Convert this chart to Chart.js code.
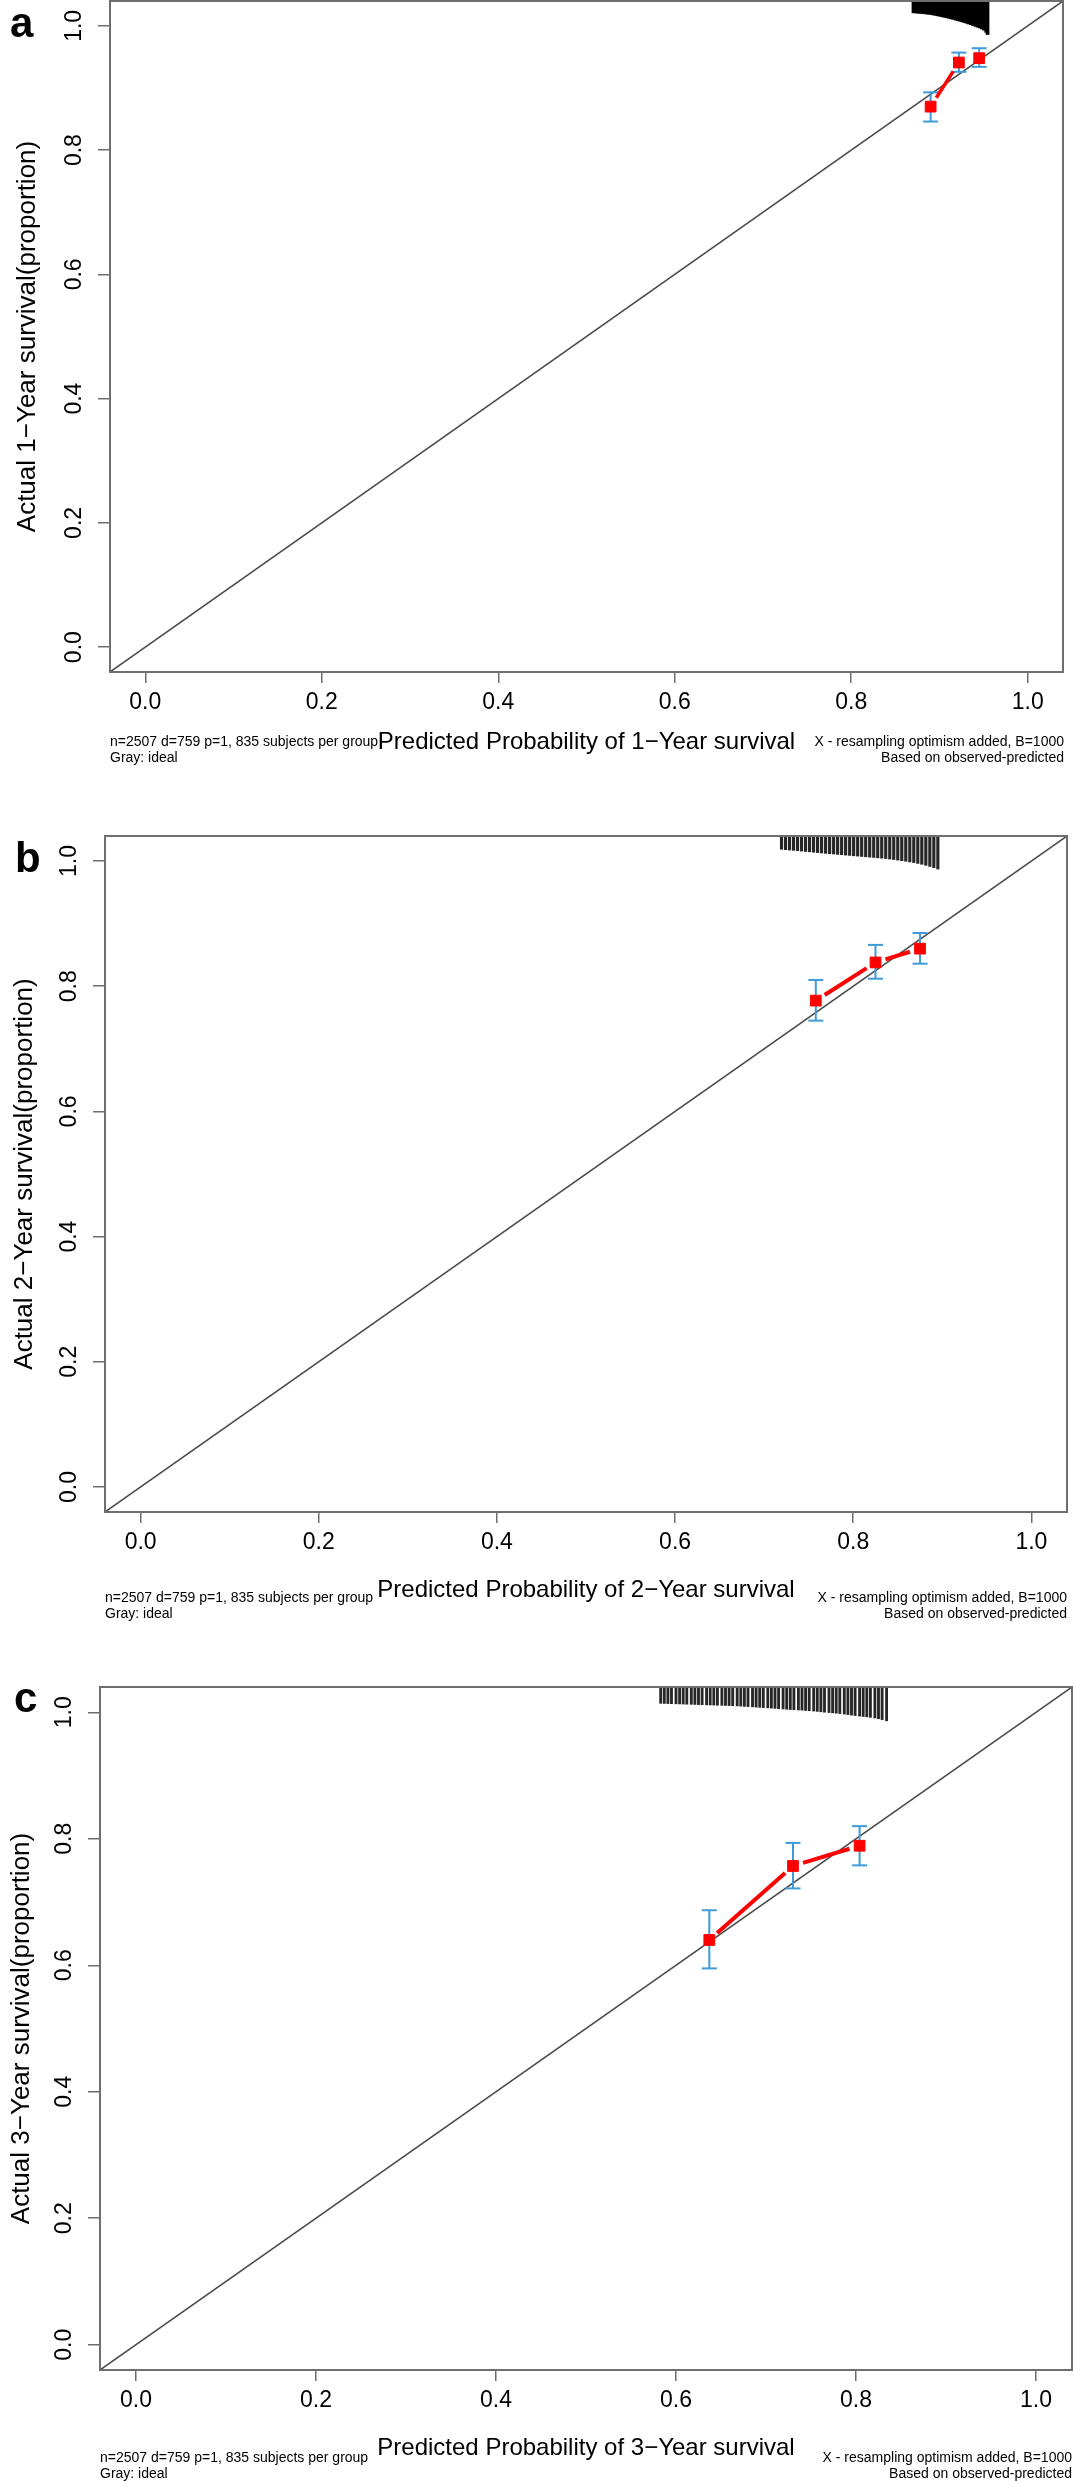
<!DOCTYPE html>
<html>
<head>
<meta charset="utf-8">
<script src="https://cdn.jsdelivr.net/npm/chart.js@4.4.0/dist/chart.umd.min.js"></script>
<style>
  html, body { margin: 0; padding: 0; background: #fff; }
  body { width: 1074px; height: 2481px; position: relative; overflow: hidden; font-family: 'Liberation Sans', Arial, sans-serif; }
  canvas { position: absolute; left: 0; display: block; }
  .tag { position: absolute; font-weight: bold; font-size: 42px; line-height: 42px; }
  .note { position: absolute; font-size: 14px; line-height: 16px; white-space: nowrap; color: #000; }
  .note.r { text-align: right; }
</style>
</head>
<body>
<canvas id="cal1" width="1074" height="790" style="top:0px"></canvas>
<canvas id="cal2" width="1074" height="860" style="top:790px"></canvas>
<canvas id="cal3" width="1074" height="831" style="top:1650px"></canvas>

<div class="tag" style="left:10px;top:2px">a</div>
<div class="tag" style="left:15px;top:837px">b</div>
<div class="tag" style="left:14px;top:1677px">c</div>

<div class="note" style="left:110px;top:733px">n=2507 d=759 p=1, 835 subjects per group</div>
<div class="note" style="left:110px;top:749px">Gray: ideal</div>
<div class="note r" style="right:10px;top:733px">X - resampling optimism added, B=1000</div>
<div class="note r" style="right:10px;top:749px">Based on observed-predicted</div>

<div class="note" style="left:105px;top:1589px">n=2507 d=759 p=1, 835 subjects per group</div>
<div class="note" style="left:105px;top:1605px">Gray: ideal</div>
<div class="note r" style="right:7px;top:1589px">X - resampling optimism added, B=1000</div>
<div class="note r" style="right:7px;top:1605px">Based on observed-predicted</div>

<div class="note" style="left:100px;top:2449px">n=2507 d=759 p=1, 835 subjects per group</div>
<div class="note" style="left:100px;top:2465px">Gray: ideal</div>
<div class="note r" style="right:2px;top:2449px">X - resampling optimism added, B=1000</div>
<div class="note r" style="right:2px;top:2465px">Based on observed-predicted</div>

<script>
const FONT = "'Liberation Sans', Arial, sans-serif";

// axis setup shared by the three calibration plots
const axisMin = -0.04;
const axisMax = 1.04;
const tickValues = [0, 0.2, 0.4, 0.6, 0.8, 1.0];
const idealLine = [-0.04, 1.04];

// a: 1-year survival
const pred1 = [0.890, 0.922, 0.945];
const obs1 = [0.870, 0.941, 0.948];
const lo1 = [0.846, 0.926, 0.934];
const hi1 = [0.893, 0.957, 0.964];
const spikeX1 = [0.8705, 0.873, 0.8755, 0.878, 0.8805, 0.883, 0.8855, 0.888, 0.8905, 0.893, 0.8955, 0.898,
  0.9005, 0.903, 0.9055, 0.908, 0.9105, 0.913, 0.9155, 0.918, 0.9205, 0.923, 0.9255, 0.928, 0.9305, 0.933,
  0.9355, 0.938, 0.9405, 0.943, 0.9455, 0.948, 0.9505, 0.953, 0.9545];
const spikeLen1 = [0.019, 0.0193, 0.0196, 0.0199, 0.0202, 0.0206, 0.021, 0.0214, 0.0218, 0.0225, 0.0232, 0.0239,
  0.0246, 0.0254, 0.0262, 0.027, 0.0278, 0.0287, 0.0296, 0.0306, 0.0316, 0.0326, 0.0336, 0.0347, 0.0358, 0.037,
  0.0382, 0.0395, 0.0408, 0.0421, 0.0434, 0.045, 0.047, 0.0505, 0.054];

// b: 2-year survival
const pred2 = [0.758, 0.825, 0.875];
const obs2 = [0.777, 0.838, 0.860];
const lo2 = [0.745, 0.812, 0.836];
const hi2 = [0.810, 0.866, 0.885];
const spikeX2 = [0.7195, 0.724, 0.7285, 0.733, 0.7375, 0.742, 0.7465, 0.751, 0.7555, 0.76, 0.7645, 0.769,
  0.7735, 0.778, 0.7825, 0.787, 0.7915, 0.796, 0.8005, 0.805, 0.8095, 0.814, 0.8185, 0.823, 0.8275, 0.832,
  0.8365, 0.841, 0.8455, 0.85, 0.8545, 0.859, 0.8635, 0.868, 0.8725, 0.877, 0.8815, 0.886, 0.8905, 0.895];
const spikeLen2 = [0.0212, 0.0218, 0.0224, 0.0229, 0.0235, 0.0241, 0.0247, 0.0253, 0.0259, 0.0265, 0.0271, 0.0277,
  0.0283, 0.0288, 0.0294, 0.0299, 0.0305, 0.031, 0.0316, 0.0321, 0.0327, 0.0332, 0.0338, 0.0343, 0.0349, 0.0354,
  0.036, 0.0368, 0.0376, 0.0385, 0.0394, 0.0404, 0.0414, 0.0425, 0.0438, 0.0452, 0.0468, 0.0486, 0.0506, 0.0528];

// c: 3-year survival
const pred3 = [0.637, 0.730, 0.804];
const obs3 = [0.640, 0.757, 0.789];
const lo3 = [0.595, 0.7215, 0.758];
const hi3 = [0.687, 0.7935, 0.820];
const spikeX3 = [0.583, 0.587, 0.591, 0.595, 0.6, 0.604, 0.608, 0.612, 0.617, 0.621, 0.625, 0.629, 0.634, 0.638,
  0.642, 0.646, 0.651, 0.655, 0.659, 0.663, 0.668, 0.672, 0.676, 0.68, 0.685, 0.689, 0.693, 0.697, 0.702, 0.706,
  0.71, 0.714, 0.719, 0.723, 0.727, 0.731, 0.736, 0.74, 0.744, 0.748, 0.753, 0.757, 0.761, 0.765, 0.77, 0.774,
  0.778, 0.782, 0.787, 0.791, 0.795, 0.799, 0.804, 0.808, 0.812, 0.816, 0.821, 0.825, 0.829, 0.834];
const spikeLen3 = [0.0258, 0.026, 0.0262, 0.0264, 0.0266, 0.0268, 0.027, 0.0272, 0.0274, 0.0276, 0.0278, 0.028,
  0.0282, 0.0284, 0.0286, 0.0288, 0.029, 0.0292, 0.0294, 0.0296, 0.0299, 0.0303, 0.0306, 0.031, 0.0314, 0.0318,
  0.0322, 0.0326, 0.033, 0.0334, 0.0338, 0.0342, 0.0347, 0.0352, 0.0356, 0.036, 0.0363, 0.0366, 0.037, 0.0375,
  0.038, 0.0386, 0.0392, 0.0398, 0.0404, 0.0408, 0.0414, 0.042, 0.0428, 0.0436, 0.0444, 0.0452, 0.046, 0.0466,
  0.0472, 0.048, 0.049, 0.0502, 0.0516, 0.0535];

// draws the red connecting line R-style (type="b"): segments stop short of each square
const gapLine = {
  id: 'gapLine',
  beforeDatasetDraw(chart, args, opts) {
    if (args.index !== 0) return;
    const pts = args.meta.data;
    const ctx = chart.ctx;
    ctx.save();
    ctx.strokeStyle = '#ff0000';
    ctx.lineWidth = opts.width || 4;
    ctx.lineCap = 'butt';
    for (let i = 0; i < pts.length - 1; i++) {
      const a = pts[i], b = pts[i + 1];
      const dx = b.x - a.x, dy = b.y - a.y;
      const d = Math.hypot(dx, dy);
      const g = opts.gap || 10.5;
      if (d <= 2 * g) continue;
      ctx.beginPath();
      ctx.moveTo(a.x + dx * g / d, a.y + dy * g / d);
      ctx.lineTo(b.x - dx * g / d, b.y - dy * g / d);
      ctx.stroke();
    }
    ctx.restore();
  }
};

// plot box
const frame = {
  id: 'frame',
  afterDatasetsDraw(chart) {
    const {ctx, chartArea: a} = chart;
    ctx.save();
    ctx.strokeStyle = '#6e6e6e';
    ctx.lineWidth = 2;
    ctx.strokeRect(a.left, a.top, a.right - a.left, a.bottom - a.top);
    ctx.restore();
  }
};

function errorBarData(pred, lo, hi) {
  const out = [];
  pred.forEach((x, i) => {
    out.push({x, y: lo[i]}, {x, y: hi[i]}, {x, y: null});
  });
  return out;
}

function makePanel(id, p) {
  return new Chart(document.getElementById(id), {
    type: 'scatter',
    data: {
      datasets: [
        {
          label: 'calibrated',
          data: p.pred.map((x, i) => ({x, y: p.obs[i]})),
          pointStyle: 'rect', pointRadius: 7.6, pointHoverRadius: 7.6,
          backgroundColor: '#ff0000', borderColor: '#ff0000', borderWidth: 1,
          order: 0
        },
        {
          type: 'line', label: 'ci',
          data: errorBarData(p.pred, p.lo, p.hi),
          borderColor: '#3f9bd8', borderWidth: 2, spanGaps: false,
          pointStyle: 'line', pointRadius: 7.5, pointBorderColor: '#3f9bd8', pointBorderWidth: 2,
          order: 1
        },
        {
          type: 'bar', label: 'spikes',
          data: p.spikeX.map((x, i) => ({x, y: [axisMax - p.spikeLen[i], axisMax]})),
          backgroundColor: p.spikeColor, barThickness: p.spikeW,
          order: 2
        },
        {
          type: 'line', label: 'ideal',
          data: idealLine.map(v => ({x: v, y: v})),
          borderColor: '#4a4a4a', borderWidth: 1.5, pointRadius: 0,
          order: 3
        }
      ]
    },
    options: {
      responsive: false,
      animation: false,
      events: [],
      layout: { autoPadding: false, padding: { top: p.padTop, right: p.padRight, bottom: 0, left: 0 } },
      plugins: {
        legend: { display: false },
        tooltip: { enabled: false },
        gapLine: { width: p.lineW, gap: 10.5 }
      },
      scales: {
        x: {
          type: 'linear', min: axisMin, max: axisMax, offset: false,
          afterBuildTicks: s => { s.ticks = tickValues.map(v => ({value: v})); },
          afterFit: s => { s.height = p.xAxisH; s.paddingLeft = 0; s.paddingRight = 0; },
          ticks: { callback: v => v.toFixed(1), font: {family: FONT, size: 23}, color: '#000', padding: 6, maxRotation: 0, autoSkip: false },
          grid: { drawOnChartArea: false, drawTicks: true, tickLength: 11, color: '#6e6e6e', lineWidth: 1.5, offset: false },
          border: { display: false },
          title: { display: true, text: p.xTitle, color: '#000', font: {family: FONT, size: 24}, padding: {top: 0, bottom: p.xTitlePad} }
        },
        y: {
          type: 'linear', min: axisMin, max: axisMax,
          afterBuildTicks: s => { s.ticks = tickValues.map(v => ({value: v})); },
          afterFit: s => { s.width = p.yAxisW; s.paddingTop = 0; s.paddingBottom = 0; },
          ticks: { callback: v => v.toFixed(1), font: {family: FONT, size: 23}, color: '#000', padding: 7, minRotation: 90, maxRotation: 90, crossAlign: 'center', autoSkip: false },
          grid: { drawOnChartArea: false, drawTicks: true, tickLength: 12, color: '#6e6e6e', lineWidth: 1.5 },
          border: { display: false },
          title: { display: true, text: p.yTitle, color: '#000', font: {family: FONT, size: 26}, padding: {top: p.yTitlePad, bottom: 0} }
        }
      }
    },
    plugins: [gapLine, frame]
  });
}

makePanel('cal1', {
  pred: pred1, obs: obs1, lo: lo1, hi: hi1, spikeX: spikeX1, spikeLen: spikeLen1,
  spikeColor: '#000', spikeW: 3, lineW: 3.5,
  padTop: 1, padRight: 11, yAxisW: 110, xAxisH: 118, xTitlePad: 33.6, yTitlePad: 12,
  xTitle: 'Predicted Probability of 1\u2212Year survival',
  yTitle: 'Actual 1\u2212Year survival(proportion)'
});
makePanel('cal2', {
  pred: pred2, obs: obs2, lo: lo2, hi: hi2, spikeX: spikeX2, spikeLen: spikeLen2,
  spikeColor: '#262626', spikeW: 2.5, lineW: 4,
  padTop: 46, padRight: 7, yAxisW: 105, xAxisH: 138, xTitlePad: 45, yTitlePad: 9,
  xTitle: 'Predicted Probability of 2\u2212Year survival',
  yTitle: 'Actual 2\u2212Year survival(proportion)'
});
makePanel('cal3', {
  pred: pred3, obs: obs3, lo: lo3, hi: hi3, spikeX: spikeX3, spikeLen: spikeLen3,
  spikeColor: '#262626', spikeW: 2.2, lineW: 4,
  padTop: 37, padRight: 2, yAxisW: 100, xAxisH: 111, xTitlePad: 18.6, yTitlePad: 6,
  xTitle: 'Predicted Probability of 3\u2212Year survival',
  yTitle: 'Actual 3\u2212Year survival(proportion)'
});
</script>
</body>
</html>
